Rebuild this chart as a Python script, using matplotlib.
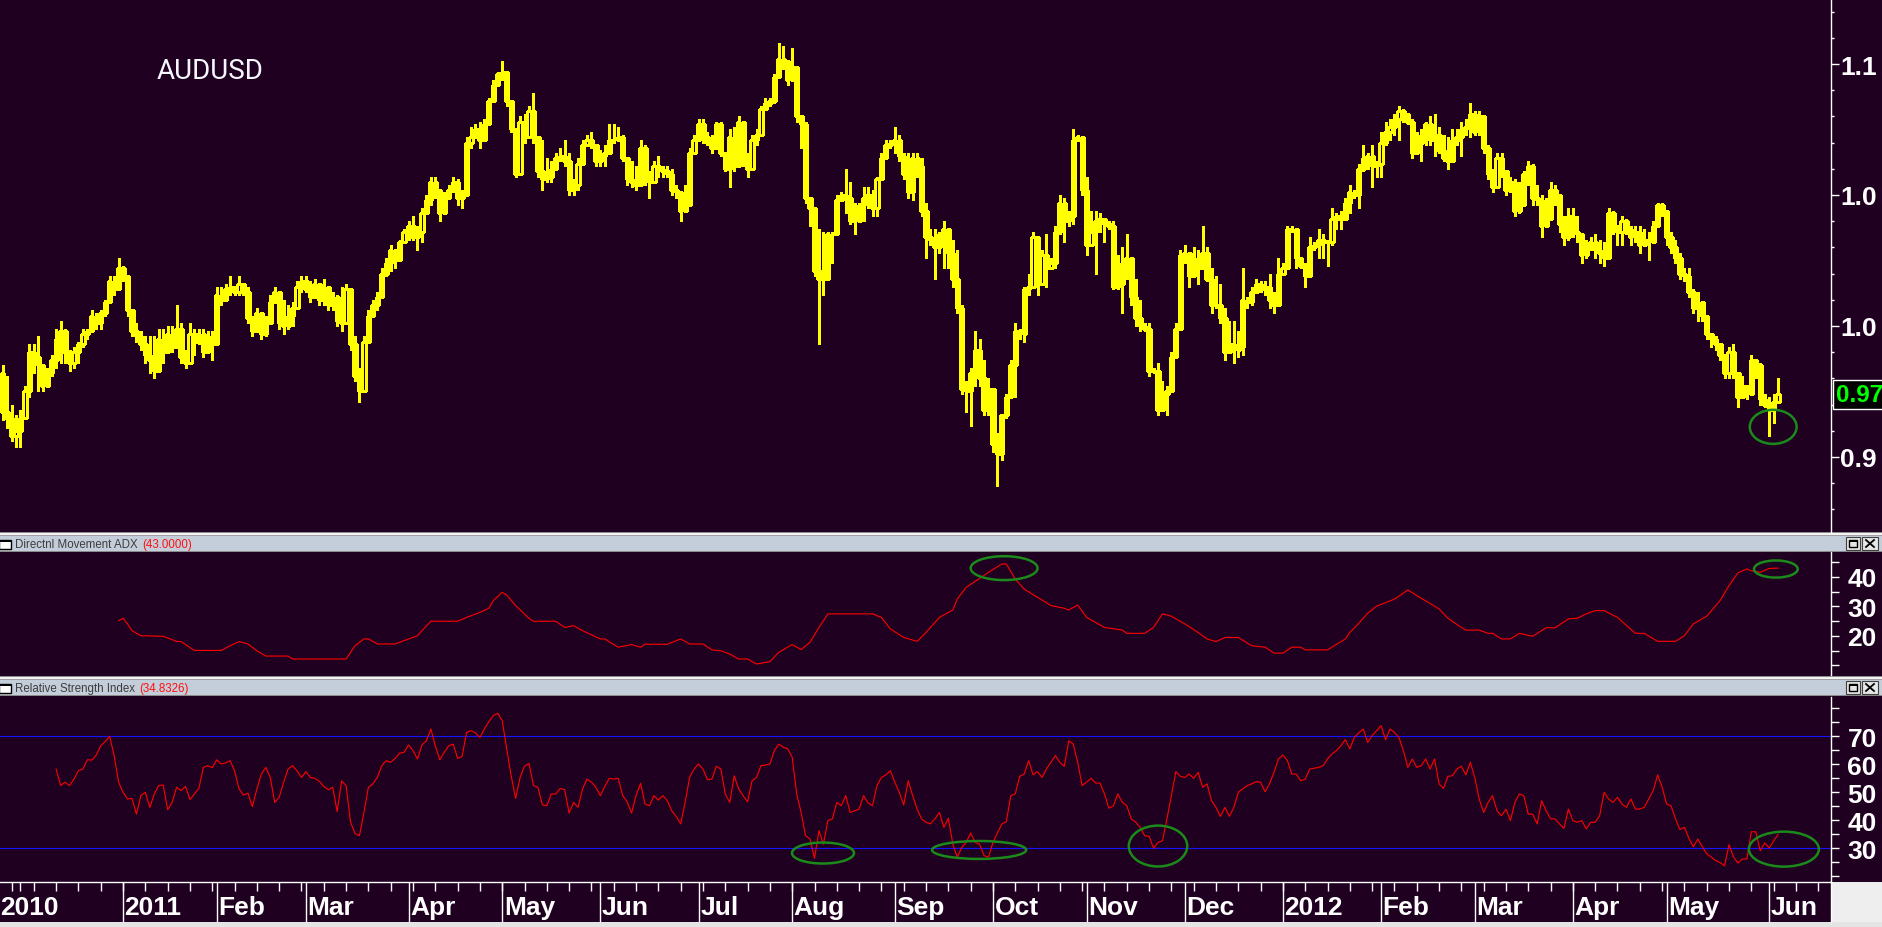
import numpy as np
import pandas as pd
import matplotlib
matplotlib.use("Agg")
import matplotlib.pyplot as plt
from matplotlib.patches import Ellipse, Rectangle
from matplotlib.transforms import blended_transform_factory

# ---------------- data ----------------
first_date = "2010-11-25"
first_open = 0.982
closes = [
 0.967, 0.965, 0.958, 0.960, 0.965, 0.975, 0.990, 0.988, 0.985, 0.977,
 0.982, 0.987, 0.995, 0.998, 0.990, 0.986, 0.990, 0.993, 0.997, 0.998,
 1.004, 1.001, 1.005, 1.009, 1.017, 1.014, 1.022, 1.019, 1.006, 0.998,
 0.996, 0.993, 0.989, 0.987, 0.983, 0.995, 0.990, 0.997, 0.992, 0.999,
 0.988, 0.986, 0.997, 0.994, 0.997, 0.990, 0.996, 0.993, 1.012, 1.010,
 1.014, 1.015, 1.013, 1.016, 1.013, 1.003, 0.998, 1.005, 0.997, 1.001,
 1.009, 1.013, 1.001, 1.000, 1.004, 1.007, 1.015, 1.017, 1.014, 1.011,
 1.016, 1.010, 1.015, 1.008, 1.011, 1.002, 1.001, 1.014, 0.993, 0.981,
 0.975, 0.994, 1.004, 1.008, 1.011, 1.020, 1.024, 1.029, 1.025, 1.032,
 1.036, 1.038, 1.034, 1.036, 1.043, 1.048, 1.055, 1.052, 1.043, 1.049,
 1.052, 1.055, 1.049, 1.050, 1.070, 1.072, 1.075, 1.071, 1.077, 1.086,
 1.092, 1.096, 1.097, 1.086, 1.075, 1.058, 1.078, 1.072, 1.082, 1.072,
 1.059, 1.056, 1.057, 1.060, 1.064, 1.065, 1.063, 1.052, 1.054, 1.062,
 1.069, 1.071, 1.069, 1.063, 1.065, 1.066, 1.071, 1.071, 1.072, 1.064,
 1.056, 1.055, 1.054, 1.068, 1.057, 1.055, 1.061, 1.060, 1.059, 1.058,
 1.052, 1.051, 1.044, 1.046, 1.066, 1.071, 1.077, 1.072, 1.070, 1.068,
 1.077, 1.066, 1.060, 1.072, 1.061, 1.078, 1.064, 1.060, 1.071, 1.073,
 1.083, 1.085, 1.086, 1.095, 1.102, 1.101, 1.094, 1.099, 1.080, 1.077,
 1.049, 1.045, 1.021, 1.018, 1.018, 1.035, 1.035, 1.048, 1.050, 1.049,
 1.040, 1.040, 1.046, 1.049, 1.050, 1.045, 1.056, 1.064, 1.069, 1.070,
 1.071, 1.065, 1.058, 1.051, 1.064, 1.061, 1.044, 1.034, 1.033, 1.030,
 1.035, 1.037, 1.028, 1.018, 1.007, 0.976, 0.975, 0.982, 0.991, 0.980,
 0.968, 0.976, 0.955, 0.951, 0.966, 0.973, 0.985, 0.998, 0.997, 1.014,
 1.015, 1.034, 1.016, 1.027, 1.022, 1.024, 1.036, 1.047, 1.040, 1.042,
 1.071, 1.072, 1.052, 1.031, 1.036, 1.040, 1.041, 1.039, 1.038, 1.015,
 1.016, 1.024, 1.026, 1.011, 1.003, 1.000, 0.999, 0.983, 0.983, 0.968,
 0.974, 0.975, 0.988, 0.999, 1.027, 1.028, 1.019, 1.026, 1.022, 1.028,
 1.018, 1.008, 1.008, 1.003, 0.990, 0.993, 0.991, 0.992, 1.010, 1.009,
 1.013, 1.016, 1.014, 1.015, 1.010, 1.008, 1.020, 1.022, 1.037, 1.037,
 1.026, 1.023, 1.019, 1.030, 1.031, 1.033, 1.032, 1.032, 1.041, 1.042,
 1.041, 1.047, 1.051, 1.050, 1.060, 1.064, 1.065, 1.061, 1.062, 1.070,
 1.074, 1.076, 1.079, 1.082, 1.081, 1.078, 1.066, 1.070, 1.073, 1.077,
 1.071, 1.073, 1.067, 1.064, 1.063, 1.071, 1.072, 1.075, 1.076, 1.081,
 1.074, 1.080, 1.068, 1.058, 1.053, 1.064, 1.059, 1.052, 1.055, 1.044,
 1.046, 1.058, 1.061, 1.049, 1.048, 1.038, 1.041, 1.052, 1.050, 1.039,
 1.034, 1.042, 1.036, 1.035, 1.027, 1.030, 1.032, 1.029, 1.028, 1.026,
 1.043, 1.038, 1.036, 1.040, 1.037, 1.034, 1.036, 1.031, 1.033, 1.032,
 1.038, 1.046, 1.044, 1.034, 1.030, 1.026, 1.020, 1.019, 1.013, 1.007,
 1.009, 1.004, 0.997, 0.995, 0.993, 0.989, 0.982, 0.990, 0.982, 0.973,
 0.977, 0.974, 0.987, 0.985, 0.972, 0.970, 0.968, 0.971, 0.974]
highs = [
 0.985, 0.981, 0.970, 0.966, 0.968, 0.977, 0.993, 0.993, 0.996, 0.984,
 0.984, 0.989, 0.999, 1.002, 0.999, 0.991, 0.992, 0.994, 0.999, 0.999,
 1.006, 1.005, 1.006, 1.010, 1.019, 1.019, 1.026, 1.023, 1.017, 1.005,
 1.001, 0.998, 0.996, 0.996, 0.996, 0.999, 0.999, 1.000, 1.000, 1.008,
 1.001, 0.991, 1.001, 0.999, 0.999, 0.999, 0.998, 0.998, 1.015, 1.015,
 1.016, 1.019, 1.015, 1.019, 1.015, 1.015, 1.004, 1.007, 1.004, 1.004,
 1.012, 1.015, 1.013, 1.010, 1.008, 1.009, 1.017, 1.019, 1.019, 1.017,
 1.018, 1.015, 1.018, 1.013, 1.013, 1.012, 1.015, 1.016, 1.010, 0.996,
 0.984, 0.996, 1.006, 1.010, 1.013, 1.022, 1.026, 1.031, 1.029, 1.033,
 1.037, 1.040, 1.042, 1.038, 1.045, 1.050, 1.057, 1.057, 1.052, 1.051,
 1.054, 1.057, 1.056, 1.052, 1.072, 1.076, 1.077, 1.078, 1.079, 1.087,
 1.094, 1.097, 1.101, 1.095, 1.085, 1.075, 1.080, 1.081, 1.084, 1.089,
 1.071, 1.071, 1.064, 1.063, 1.066, 1.068, 1.071, 1.066, 1.056, 1.064,
 1.071, 1.073, 1.074, 1.069, 1.067, 1.069, 1.077, 1.077, 1.076, 1.073,
 1.063, 1.063, 1.061, 1.071, 1.069, 1.059, 1.063, 1.065, 1.061, 1.061,
 1.060, 1.054, 1.050, 1.054, 1.068, 1.073, 1.079, 1.079, 1.074, 1.073,
 1.078, 1.078, 1.066, 1.075, 1.076, 1.080, 1.073, 1.066, 1.073, 1.075,
 1.084, 1.087, 1.087, 1.096, 1.108, 1.107, 1.101, 1.106, 1.097, 1.078,
 1.078, 1.049, 1.040, 1.037, 1.036, 1.036, 1.036, 1.050, 1.051, 1.060,
 1.055, 1.047, 1.047, 1.053, 1.053, 1.052, 1.057, 1.066, 1.071, 1.071,
 1.076, 1.073, 1.066, 1.066, 1.066, 1.066, 1.064, 1.047, 1.037, 1.037,
 1.036, 1.040, 1.037, 1.033, 1.029, 1.008, 0.979, 0.984, 0.998, 0.995,
 0.987, 0.980, 0.973, 0.959, 0.966, 0.974, 0.987, 1.001, 0.999, 1.015,
 1.020, 1.036, 1.034, 1.029, 1.035, 1.026, 1.038, 1.050, 1.049, 1.044,
 1.075, 1.073, 1.071, 1.057, 1.044, 1.044, 1.043, 1.040, 1.040, 1.040,
 1.027, 1.030, 1.035, 1.022, 1.018, 1.010, 1.001, 1.001, 0.984, 0.986,
 0.979, 0.977, 0.990, 1.001, 1.029, 1.031, 1.026, 1.030, 1.029, 1.038,
 1.030, 1.022, 1.019, 1.016, 1.007, 1.002, 1.002, 0.998, 1.022, 1.011,
 1.015, 1.018, 1.017, 1.017, 1.020, 1.013, 1.026, 1.024, 1.038, 1.038,
 1.037, 1.026, 1.024, 1.034, 1.032, 1.037, 1.035, 1.033, 1.045, 1.043,
 1.044, 1.049, 1.054, 1.052, 1.062, 1.069, 1.066, 1.069, 1.063, 1.074,
 1.078, 1.079, 1.081, 1.084, 1.083, 1.080, 1.079, 1.074, 1.075, 1.078,
 1.080, 1.081, 1.076, 1.073, 1.072, 1.075, 1.075, 1.078, 1.079, 1.085,
 1.082, 1.082, 1.073, 1.069, 1.060, 1.066, 1.066, 1.058, 1.057, 1.056,
 1.055, 1.059, 1.063, 1.062, 1.054, 1.050, 1.049, 1.055, 1.054, 1.050,
 1.042, 1.045, 1.045, 1.042, 1.033, 1.033, 1.034, 1.035, 1.033, 1.032,
 1.045, 1.044, 1.038, 1.042, 1.041, 1.038, 1.038, 1.038, 1.037, 1.036,
 1.040, 1.047, 1.047, 1.043, 1.036, 1.033, 1.028, 1.022, 1.022, 1.014,
 1.013, 1.009, 1.004, 0.997, 0.996, 0.993, 0.989, 0.992, 0.993, 0.981,
 0.981, 0.976, 0.989, 0.987, 0.986, 0.974, 0.973, 0.974, 0.980]
lows = [
 0.964, 0.961, 0.956, 0.954, 0.954, 0.967, 0.973, 0.982, 0.975, 0.975,
 0.977, 0.981, 0.984, 0.986, 0.986, 0.983, 0.984, 0.986, 0.992, 0.995,
 0.998, 0.999, 0.999, 1.004, 1.009, 1.012, 1.017, 1.017, 1.004, 0.996,
 0.994, 0.991, 0.986, 0.982, 0.980, 0.987, 0.986, 0.990, 0.990, 0.996,
 0.986, 0.984, 0.987, 0.989, 0.993, 0.988, 0.991, 0.987, 0.997, 1.008,
 1.010, 1.012, 1.012, 1.012, 1.012, 1.001, 0.996, 0.999, 0.995, 0.996,
 1.003, 1.009, 0.999, 0.997, 0.999, 1.000, 1.008, 1.013, 1.013, 1.009,
 1.013, 1.008, 1.008, 1.006, 1.006, 1.000, 0.998, 1.003, 0.991, 0.979,
 0.971, 0.979, 0.994, 1.006, 1.006, 1.012, 1.019, 1.021, 1.022, 1.029,
 1.032, 1.033, 1.033, 1.029, 1.032, 1.043, 1.046, 1.049, 1.040, 1.043,
 1.049, 1.051, 1.046, 1.045, 1.052, 1.068, 1.073, 1.068, 1.072, 1.077,
 1.087, 1.092, 1.094, 1.084, 1.074, 1.057, 1.058, 1.070, 1.074, 1.070,
 1.057, 1.052, 1.055, 1.055, 1.061, 1.063, 1.061, 1.050, 1.050, 1.052,
 1.064, 1.069, 1.068, 1.061, 1.061, 1.061, 1.066, 1.070, 1.071, 1.063,
 1.054, 1.053, 1.052, 1.057, 1.054, 1.049, 1.055, 1.057, 1.057, 1.057,
 1.050, 1.049, 1.040, 1.044, 1.054, 1.068, 1.071, 1.070, 1.069, 1.066,
 1.069, 1.065, 1.059, 1.053, 1.059, 1.066, 1.061, 1.057, 1.061, 1.069,
 1.075, 1.083, 1.084, 1.085, 1.096, 1.098, 1.092, 1.097, 1.078, 1.068,
 1.047, 1.038, 1.019, 0.993, 1.012, 1.018, 1.024, 1.035, 1.049, 1.043,
 1.039, 1.035, 1.040, 1.040, 1.045, 1.042, 1.042, 1.057, 1.065, 1.068,
 1.066, 1.063, 1.056, 1.049, 1.048, 1.057, 1.042, 1.026, 1.031, 1.018,
 1.028, 1.022, 1.022, 1.015, 1.005, 0.974, 0.967, 0.962, 0.977, 0.977,
 0.966, 0.966, 0.952, 0.939, 0.949, 0.965, 0.973, 0.973, 0.995, 0.994,
 1.012, 1.015, 1.012, 1.022, 1.015, 1.022, 1.022, 1.035, 1.032, 1.038,
 1.039, 1.071, 1.050, 1.027, 1.033, 1.020, 1.036, 1.032, 1.037, 1.014,
 1.014, 1.005, 1.018, 1.008, 1.000, 0.998, 0.998, 0.981, 0.982, 0.966,
 0.968, 0.966, 0.975, 0.990, 0.999, 1.024, 1.015, 1.023, 1.016, 1.024,
 1.017, 1.005, 1.007, 1.001, 0.987, 0.991, 0.986, 0.988, 0.989, 1.007,
 1.008, 1.013, 1.013, 1.012, 1.007, 1.005, 1.013, 1.020, 1.024, 1.036,
 1.022, 1.022, 1.015, 1.022, 1.029, 1.026, 1.026, 1.023, 1.031, 1.037,
 1.037, 1.042, 1.043, 1.049, 1.045, 1.059, 1.060, 1.053, 1.057, 1.057,
 1.069, 1.071, 1.073, 1.071, 1.078, 1.077, 1.064, 1.068, 1.063, 1.069,
 1.069, 1.065, 1.066, 1.063, 1.060, 1.064, 1.069, 1.065, 1.073, 1.072,
 1.073, 1.073, 1.066, 1.056, 1.051, 1.058, 1.057, 1.050, 1.051, 1.042,
 1.043, 1.052, 1.054, 1.046, 1.046, 1.034, 1.038, 1.042, 1.046, 1.036,
 1.031, 1.033, 1.034, 1.032, 1.024, 1.026, 1.029, 1.026, 1.024, 1.023,
 1.029, 1.035, 1.031, 1.031, 1.035, 1.031, 1.032, 1.028, 1.031, 1.025,
 1.035, 1.038, 1.042, 1.031, 1.028, 1.024, 1.018, 1.017, 1.011, 1.005,
 1.002, 1.002, 0.995, 0.992, 0.991, 0.987, 0.980, 0.980, 0.980, 0.969,
 0.974, 0.972, 0.975, 0.980, 0.970, 0.969, 0.958, 0.963, 0.972]

rsi_first_bar = 12
rsi = [
 58.2, 52.3, 53.5, 52.3, 54.6, 57.6, 58.2, 61.5, 61.4, 63.2,
 66.5, 68.0, 69.9, 63.0, 53.5, 49.9, 47.5, 47.7, 42.1, 48.7,
 49.9, 44.5, 49.3, 52.3, 52.5, 43.7, 46.3, 51.7, 50.5, 52.0,
 47.3, 49.3, 51.3, 58.8, 59.4, 58.7, 61.5, 60.0, 60.4, 61.2,
 57.6, 51.1, 48.9, 49.6, 44.8, 51.1, 56.4, 58.8, 55.2, 46.3,
 48.1, 53.5, 58.2, 59.4, 57.6, 55.2, 57.3, 55.2, 54.9, 53.8,
 52.0, 50.8, 51.7, 43.0, 54.0, 52.3, 39.2, 35.2, 34.4, 42.7,
 51.7, 52.9, 55.2, 59.4, 61.2, 60.6, 62.0, 63.9, 64.2, 66.8,
 64.8, 61.8, 66.8, 68.3, 72.5, 66.5, 61.5, 64.2, 66.5, 67.1,
 62.0, 62.7, 71.3, 71.9, 71.1, 69.5, 72.5, 75.1, 77.3, 78.1,
 75.5, 65.4, 55.8, 47.7, 55.2, 59.2, 60.2, 52.3, 51.7, 45.4,
 45.1, 49.3, 49.3, 51.3, 50.8, 42.5, 46.3, 44.5, 51.1, 54.6,
 53.5, 51.7, 48.7, 52.0, 54.9, 54.6, 54.9, 48.7, 46.5, 42.5,
 48.7, 53.1, 45.7, 45.1, 48.7, 47.1, 48.7, 46.9, 43.3, 41.3,
 38.6, 46.3, 55.2, 58.2, 60.0,
 58.2, 54.4, 54.6, 59.2, 58.2, 49.3, 46.3, 55.8, 51.1, 48.7,
 46.5, 54.0, 55.2, 59.4, 59.6, 60.0, 64.8, 67.1, 66.0, 65.4,
 62.4, 49.3, 42.7, 34.4, 33.2, 26.3, 36.2, 31.4, 39.8, 40.4,
 46.3, 45.1, 48.7, 42.7, 43.3, 43.9, 48.7, 46.1, 45.1, 52.3,
 55.2, 56.1, 57.6, 53.5, 49.9, 45.4, 54.0, 48.7, 43.9, 40.4,
 39.2, 38.6, 40.4, 42.7, 37.4, 40.6, 31.4, 26.7, 30.2, 32.0,
 35.4, 32.0, 31.4, 27.3, 26.7, 32.0, 35.4, 38.6, 39.4, 48.7,
 49.3, 55.6, 56.4, 61.2, 56.1, 57.3, 55.2, 58.2, 60.6, 63.0,
 60.6, 59.2, 68.3, 67.1, 60.6, 52.3, 53.5, 54.9, 53.2, 53.2,
 49.3, 44.2, 45.1, 49.3, 46.3, 45.1, 40.4, 39.2, 37.4, 34.4,
 34.2, 29.9, 32.0, 32.6, 40.4, 48.7, 57.3, 55.6, 55.2, 56.4,
 54.9, 57.0, 51.7, 52.9, 46.9, 44.5, 41.3, 44.5, 41.3, 44.5,
 49.9, 51.1, 52.3, 52.9, 53.7, 53.5, 50.1, 52.9, 57.0, 61.8,
 63.2, 61.2, 56.4,
 56.4, 54.0, 54.6, 58.2, 58.5, 58.8, 59.4, 61.8, 63.6, 64.8,
 66.5, 68.7, 65.4, 69.5, 71.1, 72.5, 67.7, 70.1, 71.9, 73.7,
 68.7, 72.5, 71.3, 69.5, 64.8, 58.8, 61.8, 58.8, 59.4, 61.8,
 58.2, 61.8, 52.9, 51.3, 55.6, 55.8, 58.2, 59.2, 56.1, 60.6,
 55.2, 47.5, 42.7, 46.3, 48.7, 43.3, 41.5, 43.9, 39.8, 46.3,
 49.3, 48.7, 42.1, 42.1, 38.6, 46.9, 43.3, 40.4, 40.4, 38.6,
 37.0, 43.9, 39.8, 39.2, 39.8, 36.8, 39.2, 39.2, 41.5, 49.9,
 47.5, 46.3, 48.1, 45.7, 44.5, 47.5, 43.9,
 43.9, 44.5, 47.5, 50.5, 56.1, 51.8, 45.7, 45.1, 40.4, 36.6,
 37.4, 33.5, 30.4, 33.2, 30.5, 27.9, 26.8, 25.5, 24.8, 23.6,
 31.2, 26.8, 24.6, 26.1, 26.1, 35.8, 35.8, 29.0, 31.8, 30.0,
 32.5, 34.8326]

adx_bar = [
 26, 27, 28, 29, 31, 36, 39, 40, 43, 49, 51, 53, 55, 57, 59, 64, 65, 77, 79, 81,
 82, 84, 88, 91, 93, 94, 96, 102, 104, 107, 109, 110, 112, 113, 115, 118, 119, 124, 126, 128,
 130, 134, 135, 138, 141, 143, 144, 149, 152, 154, 157, 159, 161, 163, 165, 167, 169, 172, 174, 177,
 179, 181, 183, 185, 195, 197, 199, 202, 205, 207, 210, 213, 214, 216, 219, 221, 224, 225, 227, 229,
 232, 235, 238, 239, 241, 243, 247, 251, 252, 256, 258, 260, 262, 265, 268, 270, 272, 274, 277, 280,
 283, 285, 287, 289, 291, 292, 297, 301, 302, 304, 306, 308, 312, 315, 317, 322, 324, 327, 328, 331,
 333, 334, 336, 338, 340, 343, 346, 348, 351, 353, 355, 357, 359, 362, 366, 368, 371, 375, 377, 379,
 382, 385, 387, 389, 391, 392, 394, 396, 398]
adx_val = [
 25.2, 26.0, 24.1, 21.8, 20.1, 19.9, 18.2, 18.1, 15.1, 15.1, 16.7, 18.1, 17.3, 15.0, 13.2, 13.2, 12.2, 12.2, 16.7, 19.0,
 19.0, 17.3, 17.3, 19.0, 20.1, 21.8, 25.0, 25.0, 26.3, 28.0, 29.4, 32.0, 34.8, 33.9, 30.3, 26.0, 25.0, 25.0, 22.9, 23.5,
 21.8, 19.0, 19.0, 16.2, 17.1, 16.2, 17.2, 17.2, 19.0, 17.3, 17.3, 15.3, 15.0, 13.9, 12.2, 12.2, 10.5, 11.3, 14.5, 17.1,
 15.4, 17.9, 22.9, 27.5, 27.5, 26.3, 22.4, 19.5, 18.2, 21.2, 26.3, 28.8, 32.5, 36.5, 39.5, 41.6, 44.4, 44.4, 39.3, 35.9,
 33.1, 30.3, 29.4, 28.8, 30.5, 26.3, 22.9, 22.0, 20.9, 20.9, 22.9, 27.5, 26.7, 24.1, 21.2, 19.0, 18.1, 19.5, 19.5, 16.7,
 16.2, 14.2, 14.2, 16.2, 16.2, 15.3, 15.3, 19.0, 21.2, 24.3, 27.7, 30.1, 32.5, 35.6, 33.7, 29.2, 26.0, 22.9, 22.0, 22.0,
 20.9, 20.9, 19.0, 19.0, 20.9, 19.9, 22.8, 22.8, 25.8, 26.0, 27.5, 28.6, 28.6, 26.3, 20.9, 20.9, 18.2, 18.2, 20.1, 24.1,
 26.7, 32.0, 37.1, 41.4, 42.7, 42.1, 41.6, 42.9, 43.0]

price_ticks = [0.95, 1.00, 1.05, 1.10]
price_tick_labels = ["0.9", "1.0", "1.0", "1.1"]
adx_ticks = [20, 30, 40]
rsi_ticks = [30, 40, 50, 60, 70]
rsi_levels = [70, 30]

# annotation circles: (bar index, value, width in bars, height in value units)
price_marks = [(396.9, 0.9615, 10.5, 0.013)]
adx_marks = [(224.5, 43.0, 15.0, 8.1), (397.5, 42.7, 9.8, 5.8)]
rsi_marks = [(183.9, 28.2, 13.9, 7.5), (218.9, 29.3, 21.1, 6.4),
             (259.0, 30.7, 13.1, 14.6), (399.3, 29.6, 15.7, 12.5)]

# ---------------- styling / layout ----------------
W, H = 1883, 928
BG = "#200020"
YEL = "#ffff00"
GREEN = "#1b8a1b"
BOLD = dict(family="Liberation Sans", weight="bold", size=19)

n = min(len(closes), len(highs), len(lows))
c = np.array(closes[:n]); h = np.array(highs[:n]); l = np.array(lows[:n])
o = np.array([first_open] + closes[:n - 1])
x = np.arange(n)
XLIM = (-0.583, 409.86)

fig = plt.figure(figsize=(W / 100, H / 100), dpi=100)
fig.patch.set_facecolor(BG)


def px_axes(x0, y0, x1, y1, **kw):
    return fig.add_axes([x0 / W, 1 - y1 / H, (x1 - x0) / W, (y1 - y0) / H], **kw)


# chrome (window frame) in pixel coordinates
chrome = fig.add_axes([0, 0, 1, 1], zorder=-10)
chrome.set_xlim(0, W); chrome.set_ylim(H, 0); chrome.axis("off")
chrome.add_patch(Rectangle((0, 0), W, H, color=BG, lw=0))


def rect(x0, y0, x1, y1, color, **kw):
    chrome.add_patch(Rectangle((x0, y0), x1 - x0, y1 - y0, facecolor=color,
                               edgecolor=kw.pop("ec", "none"), lw=kw.pop("lw", 0), **kw))


def header(y0, title, value):
    rect(0, y0 - 4, W, y0 - 3, "#8c8c8c")
    rect(0, y0 - 3, W, y0 - 1, "#f4f4f4")
    rect(0, y0 - 1, W, y0, "#a0a0a0")
    rect(0, y0, W, y0 + 15, "#c3cedA")
    rect(0, y0 + 15, W, y0 + 16, "#8a8a8a")
    # small window icon
    rect(-1, y0 + 4, 11, y0 + 13, "white", ec="black", lw=1.0)
    rect(-1, y0 + 4, 11, y0 + 6, "black")
    t = chrome.text(15, y0 + 8, title, ha="left", va="center", color="#3c3c3c",
                    family="Liberation Sans", size=8.3)
    chrome.annotate(value, xy=(1, 0.5), xycoords=t, xytext=(3, 0),
                    textcoords="offset points", ha="left", va="center",
                    color="#ff1010", family="Liberation Sans", size=8.3)
    # restore / close buttons
    rect(1846, y0 + 1, 1860, y0 + 14, "#e6e6e6", ec="#404040", lw=0.8)
    rect(1849, y0 + 4, 1857, y0 + 11, "none", ec="black", lw=1.0)
    rect(1849, y0 + 4, 1857, y0 + 5.5, "black")
    rect(1862, y0 + 1, 1878, y0 + 14, "#e6e6e6", ec="#404040", lw=0.8)
    chrome.plot([1866, 1874], [y0 + 4, y0 + 11], color="black", lw=1.3)
    chrome.plot([1866, 1874], [y0 + 11, y0 + 4], color="black", lw=1.3)


header(537, "Directnl Movement ADX", f"({adx_val[-1]:.4f})")
header(681, "Relative Strength Index", f"({rsi[-1]:.4f})")
rect(1831, 883, W, H, "#eeeeee")
rect(0, 923, W, H, "#e4e4e4")


def style(ax, ylim, majors, labels, minors, minor_len):
    ax.set_facecolor(BG)
    ax.set_xlim(XLIM)
    ax.set_ylim(*ylim)
    for s in ("top", "left", "bottom"):
        ax.spines[s].set_visible(False)
    ax.spines["right"].set_color("white")
    ax.spines["right"].set_linewidth(1.0)
    ax.set_xticks([])
    ax.yaxis.tick_right()
    ax.set_yticks(majors)
    ax.set_yticklabels(labels, fontdict=BOLD)
    ax.set_yticks(minors, minor=True)
    ax.tick_params(axis="y", which="major", direction="out", length=6, width=1,
                   color="white", labelcolor="white", pad=27)
    ax.tick_params(axis="y", which="minor", direction="out", length=minor_len,
                   width=1, color="white")
    for t in ax.get_yticklabels():
        t.set_ha("right")


# ---- price panel ----
ax_p = px_axes(0, 0, 1831, 533)
p_minor = [v / 100 for v in range(93, 113) if v % 5 != 0]
style(ax_p, (0.92137, 1.12481), price_ticks, price_tick_labels, p_minor, 2.5)
up = c >= o
ax_p.vlines(x, l, h, color=YEL, lw=0.8, antialiased=False, zorder=2)
ax_p.bar(x[up], (c - o)[up], bottom=o[up], width=0.72, facecolor=BG,
         edgecolor=YEL, linewidth=0.8, zorder=3, antialiased=False)
ax_p.bar(x[~up], (c - o)[~up], bottom=o[~up], width=0.72, facecolor=YEL,
         edgecolor=YEL, linewidth=0.8, zorder=3, antialiased=False)
ax_p.text(157 / 1831, 1 - 72 / 533, "AUDUSD", transform=ax_p.transAxes,
          ha="left", va="center", color="#f6f6ff", family="Roboto", size=20)
# last-price tag (box runs off the right edge as in the reference, text stays inside)
tag_font = dict(BOLD, size=17.5)
ax_p.add_patch(Rectangle((1 + 4 / 1831, c[-1]), 80 / 1831, 0.0, transform=blended_transform_factory(ax_p.transAxes, ax_p.transData),
                         visible=False))
ax_p.text(1 + 5 / 1831, c[-1], f"{c[-1]:.2f}",
          transform=blended_transform_factory(ax_p.transAxes, ax_p.transData),
          ha="left", va="center", color="#00ff00", clip_on=False, zorder=6,
          bbox=dict(boxstyle="square,pad=0.12", facecolor="black",
                    edgecolor="white", linewidth=1), **tag_font)
for (cx, cy, ew, eh) in price_marks:
    ax_p.add_patch(Ellipse((cx, cy), ew, eh, fill=False, edgecolor=GREEN, lw=1.8, zorder=5))

# ---- ADX panel ----
ax_a = px_axes(0, 553, 1831, 676)
style(ax_a, (6.78, 48.47), adx_ticks, [str(v) for v in adx_ticks], [10, 15, 25, 35, 45], 6)
ax_a.plot(adx_bar, adx_val, color="#ff0000", lw=0.8, zorder=3)
for (cx, cy, ew, eh) in adx_marks:
    ax_a.add_patch(Ellipse((cx, cy), ew, eh, fill=False, edgecolor=GREEN, lw=1.8, zorder=5))

# ---- RSI panel ----
ax_r = px_axes(0, 698, 1831, 883)
style(ax_r, (17.86, 83.93), rsi_ticks, [str(v) for v in rsi_ticks],
      [20, 25, 35, 45, 55, 65, 75, 80], 6)
for lev in rsi_levels:
    ax_r.axhline(lev, color="#1414ff", lw=0.8, zorder=2)
ax_r.plot(np.arange(rsi_first_bar, rsi_first_bar + len(rsi)), rsi,
          color="#ff0000", lw=0.8, zorder=3)
for (cx, cy, ew, eh) in rsi_marks:
    ax_r.add_patch(Ellipse((cx, cy), ew, eh, fill=False, edgecolor=GREEN, lw=1.8, zorder=5))

# ---- date axis band ----
ax_x = px_axes(0, 883, 1831, 923)
ax_x.set_facecolor(BG)
ax_x.set_xlim(XLIM); ax_x.set_ylim(1, 0)
ax_x.set_xticks([]); ax_x.set_yticks([])
for s in ("left", "bottom"):
    ax_x.spines[s].set_visible(False)
for s in ("top", "right"):
    ax_x.spines[s].set_color("white"); ax_x.spines[s].set_linewidth(1.0)

days = pd.bdate_range(first_date, periods=int(XLIM[1]) + 1)
idx = np.arange(len(days))
mondays = idx[days.weekday == 0]
ax_x.vlines(mondays, 0, 0.22, color="white", lw=1.0)
month_start = idx[1:][days.month[1:] != days.month[:-1]]
ax_x.text(XLIM[0] + 0.1, 0.62, str(days[0].year), ha="left", va="center",
          color="white", **BOLD)
for m in month_start:
    if m < 10:
        ax_x.vlines([m], 0, 0.22, color="white", lw=1.0)
        continue
    d = days[m]
    lab = str(d.year) if d.month == 1 else d.strftime("%b")
    ax_x.vlines([m], 0, 1, color="white", lw=1.0)
    ax_x.text(m + 0.35, 0.62, lab, ha="left", va="center", color="white", **BOLD)

fig.savefig("out.png", dpi=100, facecolor=BG)
